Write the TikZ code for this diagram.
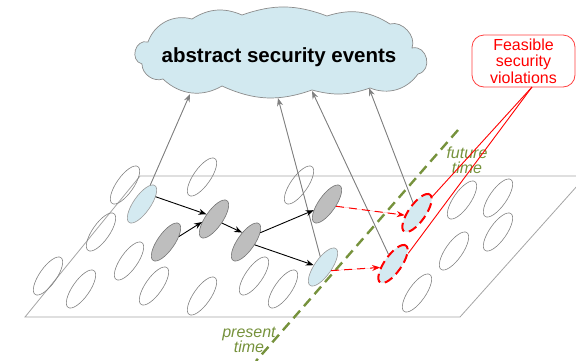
\documentclass[tikz,border=0pt]{standalone}
\usepackage{fontspec}
\setmainfont{Liberation Sans}
\usetikzlibrary{shapes.geometric,arrows.meta}
\definecolor{cloudblue}{RGB}{210,233,240}
\definecolor{lblue}{RGB}{212,234,241}
\definecolor{ggray}{RGB}{190,190,190}
\definecolor{timegreen}{RGB}{118,146,60}
\definecolor{planegray}{RGB}{165,165,165}
\begin{document}
\begin{tikzpicture}[x=1pt,y=-1pt,
  ev/.style={ellipse, minimum width=45pt, minimum height=17pt, inner sep=0pt, rotate=55, draw=black!50, line width=0.6pt},
  wev/.style={ev},
  bev/.style={ev, fill=lblue, draw=black!40},
  gev/.style={ev, fill=ggray, draw=black!55},
  rev/.style={ev, fill=lblue, draw=red, line width=2pt, dash pattern=on 9pt off 5pt},
  flow/.style={-{Stealth[length=8pt,width=6pt]}, line width=0.9pt, draw=black},
  absarrow/.style={-{Stealth[length=8pt,width=6pt]}, line width=0.9pt, draw=black!50, fill=black!50},
  feas/.style={-{Stealth[length=8pt,width=6pt]}, line width=1pt, draw=red, fill=red, dash pattern=on 8pt off 5pt},
  pointer/.style={draw=red, line width=0.9pt},
  timeline/.style={draw=timegreen, line width=2.4pt, dash pattern=on 10pt off 6pt},
  timelabel/.style={text=timegreen, font=\fontsize{16}{15}\selectfont\itshape, align=center, inner sep=0pt},
  cloudline/.style={fill=cloudblue, draw=black!45, line width=0.7pt},
]
\useasboundingbox (0,0) rectangle (576,360);
\clip (0,0) rectangle (576,360);

% plane
\coordinate (p1) at (25,317);
\coordinate (p2) at (460,317);
\coordinate (p3) at (586,176);
\coordinate (p4) at (140,176);
\draw[planegray, line width=0.8pt] (p1) -- (p2) -- (p3) -- (p4) -- cycle;

% time line
\coordinate (ft) at (458,130);
\coordinate (pt) at (256,361);
\draw[timeline] (ft) -- (pt);
\node[timelabel] (futl) at (467,160) {future\\time};
\node[timelabel] (presl) at (249,340) {present\\time};

% cloud outline
\coordinate (k1) at (148,42);
\coordinate (k2) at (192,19);
\coordinate (k3) at (242,15);
\coordinate (k4) at (327,16);
\coordinate (k5) at (390,24);
\coordinate (k6) at (412,48);
\coordinate (k7) at (418,74);
\coordinate (k8) at (370,88);
\coordinate (k9) at (312,90);
\coordinate (k10) at (222,86);
\coordinate (k11) at (163,79);
\coordinate (k12) at (142,64);
\draw[cloudline] (k1) to[bend left=43] (k2) to[bend left=28] (k3) to[bend left=20] (k4)
  to[bend left=25] (k5) to[bend left=64] (k6) to[bend left=90, looseness=1.5] (k7)
  to[bend left=38] (k8) to[bend left=17] (k9) to[bend left=22] (k10)
  to[bend left=37] (k11) to[bend left=55] (k12) to[bend left=90, looseness=1.5] (k1) -- cycle;
\node[font=\fontsize{20.5}{22}\selectfont\bfseries, inner sep=0pt] (cloudtext) at (279,57) {abstract security events};

% callout
\node[draw=red!75, line width=0.8pt, rounded corners=12pt, fill=white, minimum width=103pt, minimum height=52pt,
      text=red, align=center, inner sep=0pt, font=\fontsize{16}{16.5}\selectfont] (call) at (523.5,61)
      {Feasible\\security\\violations};

% white ellipses
\node[wev] (e1) at (125,185) {};
\node[wev] (e2) at (202,177) {};
\node[wev] (e3) at (101,232) {};
\node[wev] (e4) at (129,261) {};
\node[wev] (e5) at (48,276) {};
\node[wev] (e6) at (81,289) {};
\node[wev] (e7) at (154,286) {};
\node[wev] (e8) at (202,296) {};
\node[wev] (e9) at (254,276) {};
\node[wev] (e10) at (283,289) {};
\node[wev] (e11) at (299,185) {};
\node[wev] (e12) at (462,200) {};
\node[wev] (e13) at (498,198) {};
\node[wev] (e14) at (498,232) {};
\node[wev] (e15) at (454,251) {};
\node[wev] (e16) at (417,293) {};

% event ellipses
\node[bev] (l1) at (142,204) {};
\node[bev] (l2) at (323,267) {};
\node[gev] (g1) at (166,242) {};
\node[gev] (g2) at (214,219) {};
\node[gev] (g3) at (246,242) {};
\node[gev] (g4) at (327,204) {};
\node[rev] (r1) at (417,213) {};
\node[rev] (r2) at (393,264) {};

% abstraction arrows
\coordinate (c1) at (190,94);
\coordinate (c2) at (278,98);
\coordinate (c3) at (312,91);
\coordinate (c4) at (369,88);
\draw[absarrow] (l1) -- (c1);
\draw[absarrow] (l2) -- (c2);
\draw[absarrow] (r2) -- (c3);
\draw[absarrow] (r1) -- (c4);

% causal arrows
\draw[flow] (l1.-27) -- (g2.93);
\draw[flow] (g1.-32) -- (g2.139);
\draw[flow] (g2.-82) -- (g3.57);
\draw[flow] (g3.-22) -- (g4.150);
\draw[flow] (g3.-73) -- (l2.114);

% feasible future arrows
\draw[feas] (g4.-69) -- (r1.135);
\draw[feas] (l2.-79) -- (r2.140);

% callout pointer
\coordinate (cp) at (532,87);
\draw[pointer] (cp) -- (r1.-8);
\draw[pointer] (cp) -- (r2.-20);
\end{tikzpicture}
\end{document}
